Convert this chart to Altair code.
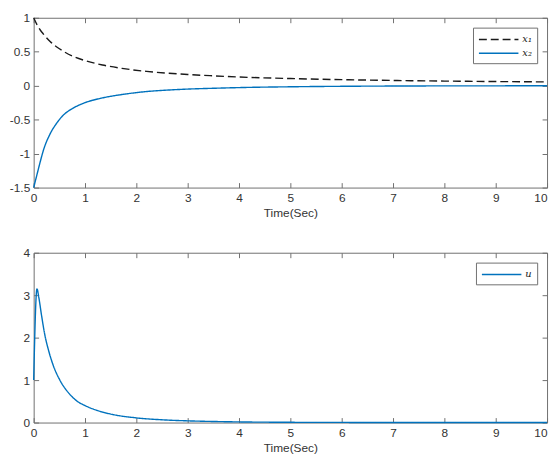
import altair as alt
import pandas as pd

# ---- data ----
t_state = [0, 0.064, 0.128, 0.19, 0.32, 0.45, 0.57, 0.77, 1, 1.34, 1.72, 2.2, 2.6, 3, 3.5, 4, 5, 6, 7, 8, 9, 10]
x1_vals = [1.0, 0.90, 0.82, 0.76, 0.65, 0.57, 0.51, 0.43, 0.37, 0.305, 0.255, 0.21, 0.185, 0.165, 0.145,
           0.128, 0.105, 0.089, 0.077, 0.068, 0.061, 0.056]
x2_vals = [-1.5, -1.31, -1.12, -0.95, -0.71, -0.55, -0.44, -0.33, -0.25, -0.18, -0.13, -0.086, -0.065,
           -0.05, -0.038, -0.028, -0.016, -0.009, -0.005, -0.003, -0.002, -0.001]

t_u = [0, 0.064, 0.1, 0.15, 0.22, 0.29, 0.38, 0.51, 0.7, 0.85, 1, 1.25, 1.5, 2, 2.5, 3, 3.5, 4, 5, 6, 8, 10]
u_vals = [1.0, 3.15, 2.95, 2.55, 2.05, 1.70, 1.35, 1.0, 0.67, 0.50, 0.40, 0.28, 0.20, 0.11, 0.065, 0.04,
          0.025, 0.015, 0.006, 0.003, 0.001, 0.0]

x_ticks = list(range(0, 11))
y_ticks_top = [-1.5, -1, -0.5, 0, 0.5, 1]
y_ticks_bot = [0, 1, 2, 3, 4]

names_top = ["x₁", "x₂"]
names_bot = ["u"]

df_top = pd.DataFrame({
    "t": t_state + t_state,
    "v": x1_vals + x2_vals,
    "s": [names_top[0]] * len(t_state) + [names_top[1]] * len(t_state),
})
df_bot = pd.DataFrame({"t": t_u, "v": u_vals, "s": [names_bot[0]] * len(t_u)})

W = 520
GRAY = "#707070"
TXT = "#333333"
BLUE = "#0072BD"

x_label_align = {"condition": {"test": "datum.value == 10", "value": "right"}, "value": "center"}


def panel(df, names, colors, dashes, ydom, yticks, H):
    xs = alt.Scale(domain=[0, 10], nice=False, zero=False)
    ys = alt.Scale(domain=ydom, nice=False, zero=False)
    leg = alt.Legend(title=None, orient="top-right", offset=10, strokeColor=GRAY, fillColor="white",
                     padding=5, symbolType="M-1,0L5.67,0", symbolSize=144, symbolStrokeWidth=1.4,
                     labelFont="DejaVu Serif", labelFontStyle="italic", labelFontSize=10,
                     labelColor="#222222", labelOffset=31, rowPadding=2, cornerRadius=0)
    main = alt.Chart(df).mark_line(strokeWidth=1.4, interpolate="monotone").encode(
        x=alt.X("t:Q", scale=xs,
                axis=alt.Axis(orient="bottom", values=x_ticks, offset=-5, tickSize=5, labelPadding=5,
                              domain=False, grid=False, title="Time(Sec)", titlePadding=4,
                              labelFlush=False, labelAlign=x_label_align,
                              labelExpr="toString(datum.value)")),
        y=alt.Y("v:Q", scale=ys,
                axis=alt.Axis(orient="left", values=yticks, offset=-5, tickSize=5, labelPadding=4,
                              domain=False, grid=False, title=None, minExtent=23, maxExtent=23,
                              labelFlush=False, labelExpr="toString(datum.value)")),
        color=alt.Color("s:N", scale=alt.Scale(domain=names, range=colors), legend=leg),
        strokeDash=alt.StrokeDash("s:N", scale=alt.Scale(domain=names, range=dashes), legend=leg),
    )
    ticks = alt.Chart(df).mark_line(opacity=0).encode(
        x=alt.X("t:Q", scale=xs,
                axis=alt.Axis(orient="top", values=x_ticks, offset=-5, tickSize=5, labels=False,
                              domain=False, grid=False, title=None, minExtent=0, maxExtent=0)),
        y=alt.Y("v:Q", scale=ys,
                axis=alt.Axis(orient="right", values=yticks, offset=-5, tickSize=5, labels=False,
                              domain=False, grid=False, title=None, minExtent=0, maxExtent=0)),
        detail="s:N",
    )
    return alt.layer(main, ticks).resolve_axis(x="independent", y="independent").properties(width=W, height=H)


top = panel(df_top, names_top, ["#1a1a1a", BLUE], [[8, 4], [1, 0]], [-1.5, 1], y_ticks_top, 172)
bot = panel(df_bot, names_bot, [BLUE], [[1, 0]], [0, 4], y_ticks_bot, 172)

chart = alt.vconcat(top, bot, spacing=27).resolve_scale(color="independent", strokeDash="independent").properties(
    padding={"left": 0, "top": 0, "right": 0, "bottom": 0}
).configure_view(stroke=GRAY, strokeWidth=1).configure_axis(
    labelFont="Liberation Sans", labelFontSize=12, labelColor=TXT, tickColor=GRAY,
    titleFont="Liberation Sans", titleFontSize=12, titleFontWeight="normal", titleColor=TXT,
)

chart.save("out.html", embed_options={"renderer": "svg", "actions": False})
